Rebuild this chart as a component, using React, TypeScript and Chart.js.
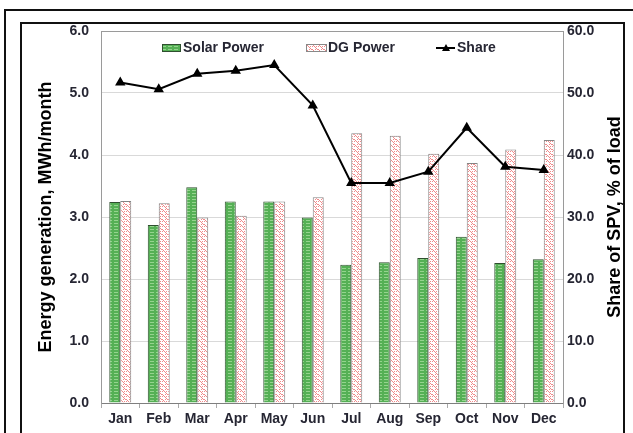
import React, { useEffect, useRef } from "react";
import { Chart, registerables } from "chart.js";

Chart.register(...registerables);

const months = ["Jan", "Feb", "Mar", "Apr", "May", "Jun", "Jul", "Aug", "Sep", "Oct", "Nov", "Dec"];
const solarPower = [3.24, 2.87, 3.48, 3.25, 3.25, 2.99, 2.23, 2.27, 2.34, 2.68, 2.26, 2.32];
const dgPower = [3.26, 3.22, 2.99, 3.02, 3.25, 3.32, 4.35, 4.31, 4.02, 3.87, 4.09, 4.24];
const sharePct = [51.7, 50.6, 53.1, 53.6, 54.5, 48.0, 35.5, 35.5, 37.3, 44.4, 38.1, 37.6];
const leftTitle = "Energy generation, MWh/month";
const rightTitle = "Share of SPV, % of load";

const FONT = "'Liberation Sans', Arial, sans-serif";
const TXT = "#262633";

function makeSolarPattern(ctx: CanvasRenderingContext2D) {
  const c = document.createElement("canvas");
  c.width = 6;
  c.height = 3;
  const g = c.getContext("2d")!;
  g.fillStyle = "#55b055";
  g.fillRect(0, 0, 6, 3);
  g.fillStyle = "#95d48e";
  g.fillRect(0, 1, 4, 1);
  return ctx.createPattern(c, "repeat")!;
}

function makeDgPattern(ctx: CanvasRenderingContext2D) {
  const c = document.createElement("canvas");
  c.width = 6;
  c.height = 5;
  const g = c.getContext("2d")!;
  g.fillStyle = "#ffffff";
  g.fillRect(0, 0, 6, 5);
  g.fillStyle = "#f08a8a";
  const px = [
    [0, 1], [1, 0], [2, 1], [3, 2], [4, 1],
    [3, 4], [4, 3], [5, 4], [0, 4],
  ];
  px.forEach(([x, y]) => g.fillRect(x, y, 1, 1));
  return ctx.createPattern(c, "repeat")!;
}

export default function App() {
  const ref = useRef<HTMLCanvasElement>(null);

  useEffect(() => {
    const canvas = ref.current!;
    const ctx = canvas.getContext("2d")!;
    const solarPat = makeSolarPattern(ctx);
    const dgPat = makeDgPattern(ctx);

    const legendPlugin = {
      id: "customLegend",
      afterDraw(chart: any) {
        const c = chart.ctx as CanvasRenderingContext2D;
        c.save();
        c.font = `bold 14px ${FONT}`;
        c.textBaseline = "middle";
        c.fillStyle = TXT;
        const y = 48;
        // Solar
        c.fillStyle = solarPat;
        c.fillRect(162, y - 4, 19, 8);
        c.strokeStyle = "#2f4f2f";
        c.lineWidth = 1;
        c.strokeRect(162.5, y - 3.5, 18, 7);
        c.fillStyle = TXT;
        c.fillText("Solar Power", 183, y);
        // DG
        c.fillStyle = dgPat;
        c.fillRect(306, y - 4, 21, 8);
        c.strokeStyle = "#888";
        c.strokeRect(306.5, y - 3.5, 20, 7);
        c.fillStyle = TXT;
        c.fillText("DG Power", 328, y);
        // Share
        c.strokeStyle = "#000";
        c.lineWidth = 2;
        c.beginPath();
        c.moveTo(436, y);
        c.lineTo(455, y);
        c.stroke();
        c.fillStyle = "#000";
        c.beginPath();
        c.moveTo(446, y - 4);
        c.lineTo(450, y + 3);
        c.lineTo(442, y + 3);
        c.closePath();
        c.fill();
        c.fillStyle = TXT;
        c.fillText("Share", 457, y);
        // Right axis title (reads bottom-to-top)
        const area = chart.chartArea;
        c.translate(615, (area.top + area.bottom) / 2);
        c.rotate(-Math.PI / 2);
        c.font = `bold 18px ${FONT}`;
        c.textAlign = "center";
        c.textBaseline = "middle";
        c.fillStyle = "#000";
        c.fillText(rightTitle, 0, 0);
        c.restore();
      },
    };

    const chart = new Chart(canvas, {
      type: "bar",
      data: {
        labels: months,
        datasets: [
          {
            type: "line",
            label: "Share",
            data: sharePct,
            yAxisID: "y1",
            borderColor: "#000",
            borderWidth: 2,
            pointStyle: "triangle",
            pointRadius: 4,
            pointBackgroundColor: "#000",
            pointBorderColor: "#000",
            tension: 0,
            order: 0,
          } as any,
          {
            label: "Solar Power",
            data: solarPower,
            yAxisID: "y",
            backgroundColor: solarPat,
            borderColor: "#2f4f2f",
            borderWidth: 1,
            categoryPercentage: 0.57,
            barPercentage: 1,
            order: 1,
          },
          {
            label: "DG Power",
            data: dgPower,
            yAxisID: "y",
            backgroundColor: dgPat,
            borderColor: "#858585",
            borderWidth: 1,
            categoryPercentage: 0.57,
            barPercentage: 1,
            order: 1,
          },
        ],
      },
      options: {
        responsive: false,
        animation: false,
        devicePixelRatio: 1,
        layout: { padding: { top: 31, left: 0, right: 0, bottom: 0 } },
        plugins: {
          legend: { display: false },
          tooltip: { enabled: false },
        },
        scales: {
          x: {
            offset: true,
            grid: {
              display: true,
              drawOnChartArea: false,
              drawTicks: true,
              tickLength: 5,
              color: "#aaa",
              offset: true,
            },
            border: { color: "#7f7f7f", width: 1 },
            ticks: {
              color: TXT,
              font: { family: FONT, size: 14, weight: "bold" },
              padding: 3,
              maxRotation: 0,
            },
            afterFit(scale: any) {
              scale.height = 30;
            },
          },
          y: {
            position: "left",
            min: 0,
            max: 6,
            ticks: {
              stepSize: 1,
              color: TXT,
              padding: 12,
              font: { family: FONT, size: 14, weight: "bold" },
              callback: (v: any) => Number(v).toFixed(1),
            },
            grid: {
              drawTicks: false,
              color: (c: any) => (c.tick && c.tick.value === 6 ? "#9a9a9a" : "#d9d9d9"),
            },
            border: { color: "#9a9a9a", width: 1 },
            title: {
              display: true,
              text: leftTitle,
              color: "#000",
              font: { family: FONT, size: 18, weight: "bold" },
              padding: { top: 35, bottom: 0 },
            },
            afterFit(scale: any) {
              scale.width = 101;
            },
          },
          y1: {
            position: "right",
            min: 0,
            max: 60,
            ticks: {
              stepSize: 10,
              color: TXT,
              padding: 4,
              font: { family: FONT, size: 14, weight: "bold" },
              callback: (v: any) => Number(v).toFixed(1),
            },
            grid: { drawOnChartArea: false, drawTicks: false },
            border: { color: "#9a9a9a", width: 1 },
            afterFit(scale: any) {
              scale.width = 70;
            },
          },
        },
      },
      plugins: [legendPlugin],
    });

    return () => chart.destroy();
  }, []);

  return (
    <div style={{ position: "absolute", left: 0, top: 0, width: 633, height: 433, background: "#fff", overflow: "hidden" }}>
      <div style={{ position: "absolute", left: 4, top: 9, width: 640, height: 440, borderTop: "2px solid #111", borderLeft: "2px solid #111" }} />
      <div style={{ position: "absolute", left: 20, top: 22, width: 605, height: 440, border: "2px solid #111", boxSizing: "border-box" as any }} />
      <canvas ref={ref} width={633} height={433} style={{ position: "absolute", left: 0, top: 0, width: 633, height: 433 }} />
    </div>
  );
}
